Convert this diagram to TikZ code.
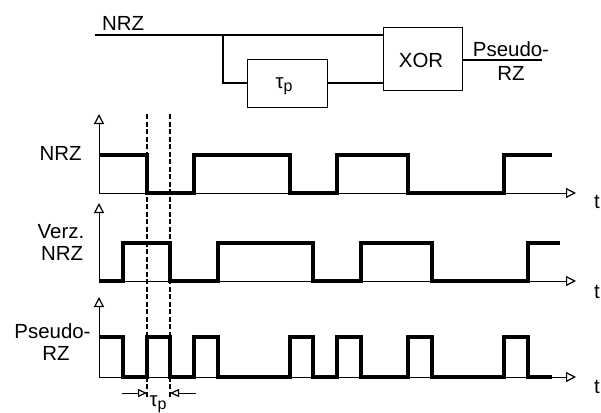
\documentclass[tikz,border=0pt]{standalone}
\usepackage{fontspec}
\setmainfont{Liberation Sans}
\usetikzlibrary{arrows.meta}
\begin{document}
\begin{tikzpicture}[x=1bp,y=-1bp,
  txt/.style={inner sep=0pt,anchor=base,font=\fontsize{20.5}{24}\selectfont},
  blk/.style={draw,line width=1bp,minimum width=#1,inner sep=0pt},
  conn/.style={line width=1.2bp},
  axis/.style={line width=1bp,-{Triangle[open,length=10bp,width=10bp,line width=1.2bp]}},
  wave/.style={line width=4.3bp,line join=miter,line cap=butt},
  dashline/.style={line width=1.9bp,dash pattern=on 5bp off 2.5bp},
  dim/.style={line width=1bp,-{Triangle[open,length=9bp,width=8bp,line width=1.2bp]}}]
\useasboundingbox (0,0) rectangle (601,412);
% ---------- block diagram ----------
\node[blk=80bp,minimum height=48bp] (tau) at (287,83) {};
\node[txt] (taulbl) at (284,88) {τ\raisebox{-0.35ex}{\fontsize{16}{16}\selectfont p}};
\node[blk=79bp,minimum height=63bp] (xor) at (422.5,58.5) {};
\node[txt] (xorlbl) at (421,67) {XOR};
\node[txt,anchor=base west] (nrzin) at (102,30) {NRZ};
\node[txt] (pso) at (511,56.5) {Pseudo-};
\node[txt] (rzo) at (511,80) {RZ};
\coordinate (in) at (95,35);
\coordinate (br) at (223,35);
\coordinate (out) at (542,60);
\draw[conn] (in) -- (in -| xor.west);
\draw[conn] (br) |- (tau.west);
\draw[conn] (tau.east) -- (tau.east -| xor.west);
\draw[conn] (xor.east |- out) -- (out);
% ---------- timing diagram ----------
% labels
\node[txt] (l1) at (60.5,160) {NRZ};
\node[txt] (l2a) at (61,238) {Verz.};
\node[txt] (l2b) at (62,260) {NRZ};
\node[txt] (l3a) at (52.5,338) {Pseudo-};
\node[txt] (l3b) at (56,360) {RZ};
\node[txt] (t1) at (597,208) {t};
\node[txt] (t2) at (597,298) {t};
\node[txt] (t3) at (597,393) {t};
% axes
\coordinate (o1) at (99,193);
\coordinate (o2) at (99,281);
\coordinate (o3) at (99,377);
\draw[axis] (o1) -- (99,114);
\draw[axis] (o1) -- (576,193);
\draw[axis] (o2) -- (99,203);
\draw[axis] (o2) -- (576,281);
\draw[axis] (o3) -- (99,297);
\draw[axis] (o3) -- (576,377);
% waveforms
\draw[wave] (99,155) -| (147,193) -| (194,155) -| (290,193) -| (337,155)
  -| (408,193) -| (504,155) -- (552,155);
\draw[wave] (99,281) -| (123,243) -| (170,281) -| (218,243) -| (313,281)
  -| (361,243) -| (432,281) -| (528,243) -- (560,243);
\draw[wave] (99,337) -| (123,377) -| (147,337) -| (170,377) -| (194,337)
  -| (218,377) -| (290,337) -| (313,377) -| (337,337) -| (361,377)
  -| (408,337) -| (432,377) -| (504,337) -| (528,377) -- (552,377);
% delay markers
\coordinate (d1t) at (147,114);
\coordinate (d1b) at (147,398);
\coordinate (d2t) at (170,114);
\coordinate (d2b) at (170,398);
\draw[dashline] (d1t) -- (d1b);
\draw[dashline] (d2t) -- (d2b);
\coordinate (a1) at (122,393);
\coordinate (a2) at (196,393);
\draw[dim] (a1) -- (a1 -| d1b);
\draw[dim] (a2) -- (a2 -| d2b);
\node[txt] (taub) at (158,406) {τ\raisebox{-0.35ex}{\fontsize{16}{16}\selectfont p}};
\end{tikzpicture}
\end{document}
